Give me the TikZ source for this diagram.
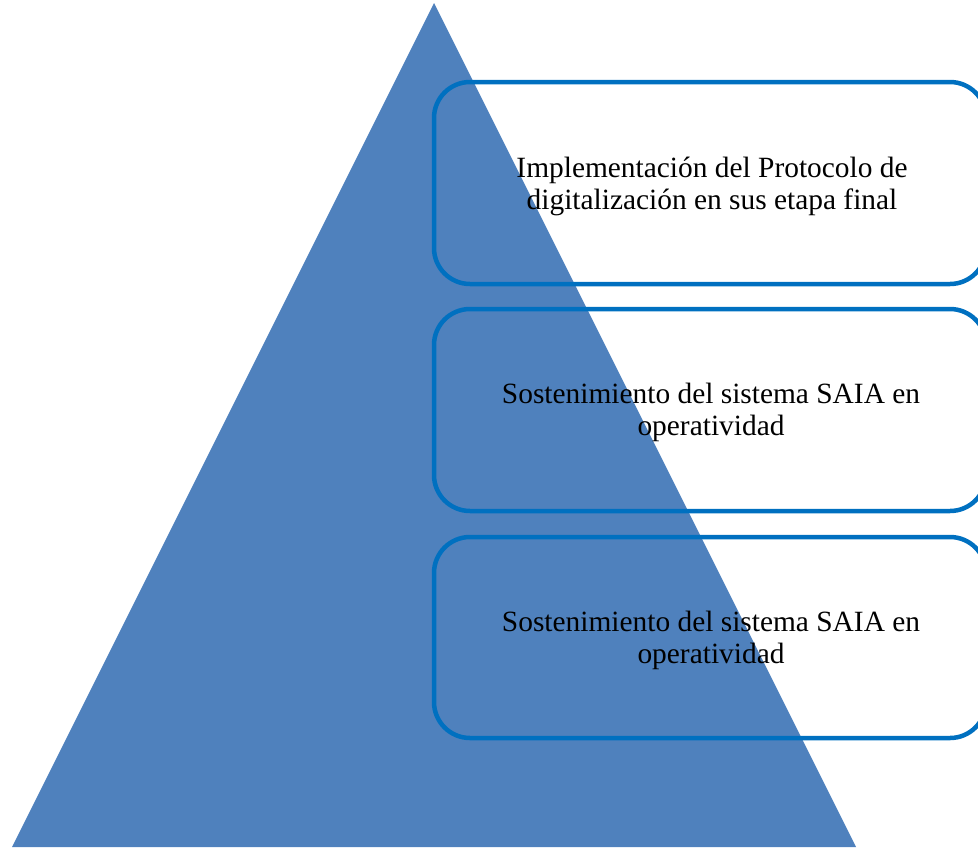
\documentclass[tikz,border=0pt]{standalone}
\usepackage{fontspec}
\setmainfont{Liberation Serif}
\definecolor{tri}{HTML}{4F81BD}
\definecolor{boxline}{HTML}{0070C0}
\tikzset{
  stepbox/.style={draw=boxline, line width=4.5pt, rounded corners=36pt},
  boxtext/.style={align=center, font=\fontsize{29.4pt}{32pt}\selectfont, text=black}
}
\begin{document}
\begin{tikzpicture}[x=1pt,y=-1pt]
\useasboundingbox (0,0) rectangle (978,847);
\fill[tri] (434,3) -- (856,847) -- (12,847) -- cycle;
\draw[stepbox] (434,82) rectangle (986,284);
\draw[stepbox] (434,309) rectangle (986,511);
\draw[stepbox] (434,537) rectangle (986,738);
\node[boxtext] (t1) at (712,186) {Implementación del Protocolo de\\digitalización en sus etapa final};
\node[boxtext] (t2) at (711,412) {Sostenimiento del sistema SAIA en\\operatividad};
\node[boxtext] (t3) at (711,640) {Sostenimiento del sistema SAIA en\\operatividad};
\end{tikzpicture}
\end{document}
